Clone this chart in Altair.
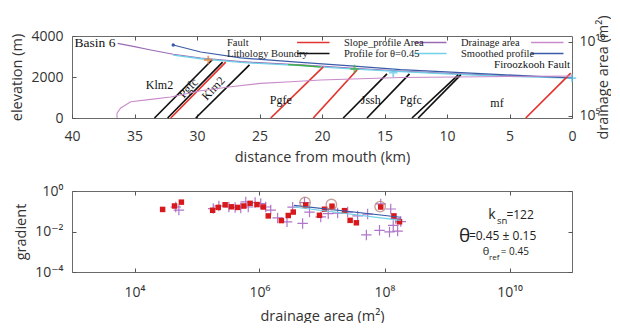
import altair as alt
import pandas as pd

SANS = "Open Sans, DejaVu Sans"
SERIF = "Liberation Serif"

# ---------------- top panel: long profile ----------------
raw_dist = [36.35, 35.0, 33.7, 31.9, 29.7, 26.5, 21.7, 17.7, 13.7, 9.7, 5.7, 0.0]
raw_elev = [3640, 3480, 3320, 3110, 2930, 2750, 2590, 2440, 2290, 2170, 2070, 1970]

cyan_dist = [31.9, 29.7, 26.5, 21.7, 17.7, 13.7, 9.7, 5.7, 0.0]
cyan_elev = [3070, 2890, 2710, 2550, 2400, 2260, 2140, 2040, 1950]

smooth_dist = [31.9, 29.7, 26.5, 21.7, 17.7, 13.7, 9.7, 5.7, 0.0]
smooth_elev = [3560, 3220, 2930, 2710, 2540, 2360, 2240, 2120, 1950]

green_dist = [22.7, 21.5, 20.1]
green_elev = [2600, 2560, 2480]

da_dist = [36.4, 36.4, 36.1, 35.3, 33.7, 32.1, 29.7, 27.3, 24.9, 22.5, 20.1, 13.7, 0.0]
da_log10 = [4.86, 5.18, 5.54, 5.96, 6.12, 6.28, 6.70, 6.97, 7.20, 7.31, 7.43, 7.60, 7.70]

seg_type = ["Lithology Boundry", "Lithology Boundry", "Fault", "Lithology Boundry", "Fault",
            "Fault", "Lithology Boundry", "Lithology Boundry", "Lithology Boundry",
            "Lithology Boundry", "Fault"]
seg_base_dist = [33.4, 32.35, 32.1, 30.1, 24.1, 20.7, 18.3, 16.4, 12.8, 12.3, 3.7]
seg_base_elev = [0] * 11
seg_top_dist = [28.8, 27.95, 27.7, 25.8, 19.9, 17.2, 14.8, 13.0, 9.1, 8.9, 0.1]
seg_top_elev = [2830, 2730, 2730, 2590, 2490, 2340, 2150, 2150, 2100, 2100, 2190]

mark_dist = [29.1, 17.4, 14.3, 0.0]
mark_elev = [2830, 2390, 2210, 1950]
mark_col = ["#e8772e", "#3fae3f", "#55c3e6", "#55c3e6"]

start_dist = [31.9]
start_elev = [3560]

unit_text = ["Klm2", "Pgfe", "Jssh", "Pgfc", "mf"]
unit_dist = [33.0, 23.3, 16.1, 12.9, 6.0]
unit_elev = [1610, 880, 880, 880, 730]

rot_text = ["Pgfc", "Klm2"]
rot_dist = [30.7, 28.7]
rot_elev = [1460, 1450]

# legend entries are laid out column by column (2 rows x 3 columns)
legend_domain = ["Fault", "Lithology Boundry", "Slope_profile Area",
                 "Profile for θ=0.45", "Drainage area", "Smoothed profile"]
legend_range = ["#e3342f", "#111111", "#9a6bb5", "#6fd0e8", "#c98bc9", "#3b5ba8"]

# ---------------- bottom panel: slope-area ----------------
sq_logA = [4.45, 4.64, 4.75, 5.25, 5.34, 5.45, 5.55, 5.65, 5.75, 5.85, 5.96, 6.06, 6.14,
           6.35, 6.46, 6.54, 6.74, 6.96, 7.04, 7.16, 7.36, 7.45, 7.55, 7.94, 8.15, 8.24]
sq_logg = [-0.91, -0.74, -0.55, -0.95, -0.81, -0.68, -0.78, -0.81, -0.74, -0.61, -0.67,
           -0.79, -1.23, -1.46, -1.21, -1.04, -0.69, -1.20, -0.90, -0.75, -0.97, -1.45,
           -1.57, -0.79, -1.23, -1.52]

pl_logA = [4.66, 4.71, 5.26, 5.35, 5.51, 5.61, 5.70, 5.78, 5.82, 5.93, 6.02, 6.10, 6.18,
           6.29, 6.44, 6.53, 6.69, 6.72, 6.80, 6.98, 7.10, 7.25, 7.41, 7.57, 7.73, 7.71,
           7.92, 7.94, 8.10, 8.14, 8.21, 8.18, 8.26, 8.08]
pl_logg = [-0.79, -0.94, -0.87, -0.74, -0.79, -0.81, -0.84, -0.54, -0.79, -0.57, -0.62,
           -0.79, -0.94, -1.33, -1.52, -0.80, -1.60, -0.57, -1.04, -1.28, -1.12, -1.09,
           -1.04, -1.23, -1.14, -2.17, -1.94, -0.64, -0.89, -1.70, -1.98, -1.36, -1.51, -2.02]

circ_logA = [6.73, 7.15, 7.93]
circ_logg = [-0.57, -0.67, -0.77]

fit_name = ["smoothed", "smoothed", "theta", "theta"]
fit_logA = [6.55, 8.26, 6.55, 8.26]
fit_logg = [-0.71, -1.30, -0.79, -1.45]
fit_colors = ["#3b5ba8", "#6fd0e8"]

ann_text = ["k", "sn", "=122", "θ", "=0.45  ±  0.15", "θ", "ref", "= 0.45"]
ann_logA = [9.66, 9.80, 9.95, 9.19, 9.35, 9.57, 9.67, 9.86]
ann_logg = [-1.20, -1.50, -1.20, -2.22, -2.22, -3.02, -3.32, -3.02]
ann_size = [14, 9.5, 12, 19, 12, 11, 8, 10]


def sup(n):
    m = {"0": "⁰", "1": "¹", "2": "²", "3": "³", "4": "⁴", "5": "⁵", "6": "⁶",
         "7": "⁷", "8": "⁸", "9": "⁹", "-": "⁻"}
    return "".join(m[c] for c in str(n))


def pow_expr(exps):
    e = ""
    for k in exps:
        e += f"round(log(datum.value)/LN10) == {k} ? '10{sup(k)}' : "
    return e + "''"


TICK_COLOR = "#555555"


def tick_axis(orient, values):
    return alt.Axis(orient=orient, values=values, labels=False, domain=False, title=None,
                    offset=-4, tickSize=4, tickColor=TICK_COLOR, grid=False)


# ---- top panel ----
W = 500
H_TOP = 82
H_BOT = 81

xs_top = alt.Scale(domain=[0, 40], reverse=True, nice=False)
ys_top = alt.Scale(domain=[0, 4000], nice=False)
x_main_top = alt.Axis(orient="bottom", values=[0, 5, 10, 15, 20, 25, 30, 35, 40], offset=-4,
                      tickSize=4, tickColor=TICK_COLOR, domain=False, grid=False,
                      labelFlush=False, labelOverlap=False, labelPadding=11, format="d",
                      title="distance from mouth (km)", titlePadding=7)
y_main_top = alt.Axis(orient="left", values=[0, 2000, 4000], offset=-4, tickSize=4,
                      tickColor=TICK_COLOR, domain=False, grid=False, labelPadding=9,
                      format="d", labelFlush=False, title="elevation (m)", titlePadding=6)

# legend line drawn to the right of its label (custom stroke path)
legend = alt.Legend(orient="none", legendX=144, legendY=1, columns=3, title=None,
                    symbolType="M16.8,0H24.0", symbolSize=81, symbolStrokeWidth=1.4,
                    labelFont=SERIF, labelFontSize=10.5, labelColor="#222",
                    labelOffset=0, columnPadding=0, rowPadding=0)
color_enc = alt.Color("series:N", scale=alt.Scale(domain=legend_domain, range=legend_range),
                      legend=legend)


def X(field):
    return alt.X(field, type="quantitative", scale=xs_top, axis=x_main_top)


def Y(field):
    return alt.Y(field, type="quantitative", scale=ys_top, axis=y_main_top)


seg_df = pd.DataFrame({"series": seg_type, "d0": seg_base_dist, "e0": seg_base_elev,
                       "d1": seg_top_dist, "e1": seg_top_elev})
rules = alt.Chart(seg_df).mark_rule(strokeWidth=1.7).encode(
    x=X("d0"), x2="d1", y=Y("e0"), y2="e1", color=color_enc)

raw_df = pd.DataFrame({"series": "Slope_profile Area", "d": raw_dist, "e": raw_elev})
raw_line = alt.Chart(raw_df).mark_line(strokeWidth=1.1).encode(
    x=X("d"), y=Y("e"), color=color_enc)

cyan_df = pd.DataFrame({"series": "Profile for θ=0.45", "d": cyan_dist, "e": cyan_elev})
cyan_line = alt.Chart(cyan_df).mark_line(strokeWidth=1.3).encode(
    x=X("d"), y=Y("e"), color=color_enc)

sm_df = pd.DataFrame({"series": "Smoothed profile", "d": smooth_dist, "e": smooth_elev})
sm_line = alt.Chart(sm_df).mark_line(strokeWidth=1.2).encode(
    x=X("d"), y=Y("e"), color=color_enc)

green_df = pd.DataFrame({"d": green_dist, "e": green_elev})
green_line = alt.Chart(green_df).mark_line(strokeWidth=1.3, color="#3fae3f").encode(
    x=X("d"), y=Y("e"))

mk_df = pd.DataFrame({"d": mark_dist, "e": mark_elev, "c": mark_col})
markers = alt.Chart(mk_df).mark_point(shape="M-1,0H1M0,-1V1", size=70, strokeWidth=1.8,
                                      filled=False).encode(
    x=X("d"), y=Y("e"), stroke=alt.Stroke("c:N", scale=None))

st_df = pd.DataFrame({"d": start_dist, "e": start_elev})
start_dot = alt.Chart(st_df).mark_circle(size=12, color="#3b5ba8", opacity=1).encode(
    x=X("d"), y=Y("e"))

unit_df = pd.DataFrame({"t": unit_text, "d": unit_dist, "e": unit_elev})
units = alt.Chart(unit_df).mark_text(font=SERIF, fontSize=12, color="#111").encode(
    x=X("d"), y=Y("e"), text="t:N")

rot_df = pd.DataFrame({"t": rot_text, "d": rot_dist, "e": rot_elev})
rots = alt.Chart(rot_df).mark_text(font=SERIF, fontSize=12, color="#111", angle=313).encode(
    x=X("d"), y=Y("e"), text="t:N")

basin_df = pd.DataFrame({"t": ["Basin 6"], "d": [39.8], "e": [3650]})
basin = alt.Chart(basin_df).mark_text(font=SERIF, fontSize=13.5, color="#111",
                                      align="left").encode(x=X("d"), y=Y("e"), text="t:N")

fz_df = pd.DataFrame({"t": ["Firoozkooh Fault"], "d": [0.15], "e": [2600]})
fz = alt.Chart(fz_df).mark_text(font=SERIF, fontSize=11, color="#111",
                                align="right").encode(x=X("d"), y=Y("e"), text="t:N")

elev_layers = alt.layer(raw_line, cyan_line, sm_line, green_line, rules, markers, start_dot,
                        units, rots, basin, fz)

da_df = pd.DataFrame({"series": "Drainage area", "d": da_dist,
                      "a": [10 ** v for v in da_log10]})
da_line = alt.Chart(da_df).mark_line(strokeWidth=1.1).encode(
    x=alt.X("d:Q", scale=xs_top, axis=tick_axis("top", [5, 10, 15, 20, 25, 30, 35])),
    y=alt.Y("a:Q", scale=alt.Scale(type="log", domain=[10 ** 4.86, 10 ** 10.4], nice=False),
            axis=alt.Axis(orient="right", values=[1e5, 1e10], labelExpr=pow_expr([5, 10]),
                          offset=-4, tickSize=4, tickColor=TICK_COLOR, domain=False,
                          grid=False, labelPadding=7, labelFlush=False,
                          title="drainage area (m²)", titleAngle=270, titlePadding=6)),
    color=color_enc)

top = alt.layer(elev_layers, da_line).resolve_scale(y="independent").resolve_axis(
    x="independent").properties(width=W, height=H_TOP)

# ---- bottom panel ----
xs_bot = alt.Scale(type="log", domain=[1e3, 1e11], nice=False)
ys_bot = alt.Scale(type="log", domain=[1e-4, 1], nice=False)
x_main_bot = alt.Axis(orient="bottom", values=[1e4, 1e6, 1e8, 1e10],
                      labelExpr=pow_expr([4, 6, 8, 10]), offset=-4, tickSize=4,
                      tickColor=TICK_COLOR, domain=False, grid=False, labelPadding=13,
                      labelFlush=False, title="drainage area (m²)", titlePadding=10)
y_main_bot = alt.Axis(orient="left", values=[1e-4, 1e-2, 1], labelExpr=pow_expr([-4, -2, 0]),
                      offset=-4, tickSize=4, tickColor=TICK_COLOR, domain=False, grid=False,
                      labelPadding=9, labelFlush=False, title="gradient", titlePadding=6)


def XB(field):
    return alt.X(field, type="quantitative", scale=xs_bot, axis=x_main_bot)


def YB(field):
    return alt.Y(field, type="quantitative", scale=ys_bot, axis=y_main_bot)


pl_df = pd.DataFrame({"A": [10 ** v for v in pl_logA], "g": [10 ** v for v in pl_logg]})
pluses = alt.Chart(pl_df).mark_point(shape="M-1,0H1M0,-1V1", size=110, strokeWidth=1.2,
                                     filled=False, color="#a35fc0", opacity=0.85).encode(
    x=XB("A"), y=YB("g"))

sq_df = pd.DataFrame({"A": [10 ** v for v in sq_logA], "g": [10 ** v for v in sq_logg]})
squares = alt.Chart(sq_df).mark_square(size=30, color="#d7191c", opacity=1).encode(
    x=XB("A"), y=YB("g"))

fit_df = pd.DataFrame({"n": fit_name, "A": [10 ** v for v in fit_logA],
                       "g": [10 ** v for v in fit_logg]})
fits = alt.Chart(fit_df).mark_line(strokeWidth=1.1).encode(
    x=XB("A"), y=YB("g"), detail="n:N",
    color=alt.Color("n:N", scale=alt.Scale(domain=["smoothed", "theta"], range=fit_colors),
                    legend=None))

circ_df = pd.DataFrame({"A": [10 ** v for v in circ_logA], "g": [10 ** v for v in circ_logg]})
circles = alt.Chart(circ_df).mark_point(shape="circle", size=110, filled=False,
                                        color="#b27a72", strokeWidth=1.4).encode(
    x=XB("A"), y=YB("g"))

ann_df = pd.DataFrame({"t": ann_text, "A": [10 ** v for v in ann_logA],
                       "g": [10 ** v for v in ann_logg], "s": ann_size})
ann = alt.Chart(ann_df).mark_text(font=SANS, align="left", baseline="middle",
                                  color="#222").encode(
    x=alt.X("A:Q", scale=xs_bot, axis=tick_axis("top", [1e4, 1e6, 1e8, 1e10])),
    y=alt.Y("g:Q", scale=ys_bot, axis=tick_axis("right", [1e-4, 1e-2, 1])),
    text="t:N", size=alt.Size("s:Q", scale=None))

bot_inner = alt.layer(pluses, squares, fits, circles)
bottom = alt.layer(bot_inner, ann).resolve_axis(x="independent", y="independent").properties(
    width=W, height=H_BOT)

chart = alt.vconcat(top, bottom, spacing=19).properties(
    padding={"left": 1, "top": 6, "right": 0, "bottom": 0}
).resolve_scale(color="independent").configure_view(
    stroke="#6b6b6b", strokeWidth=1
).configure_axis(
    labelFont=SANS, labelFontSize=14, labelColor="#333", titleFont=SANS, titleFontSize=14.5,
    titleFontWeight="normal", titleColor="#333"
)

chart.save("out.html", embed_options={"renderer": "svg", "actions": False})
